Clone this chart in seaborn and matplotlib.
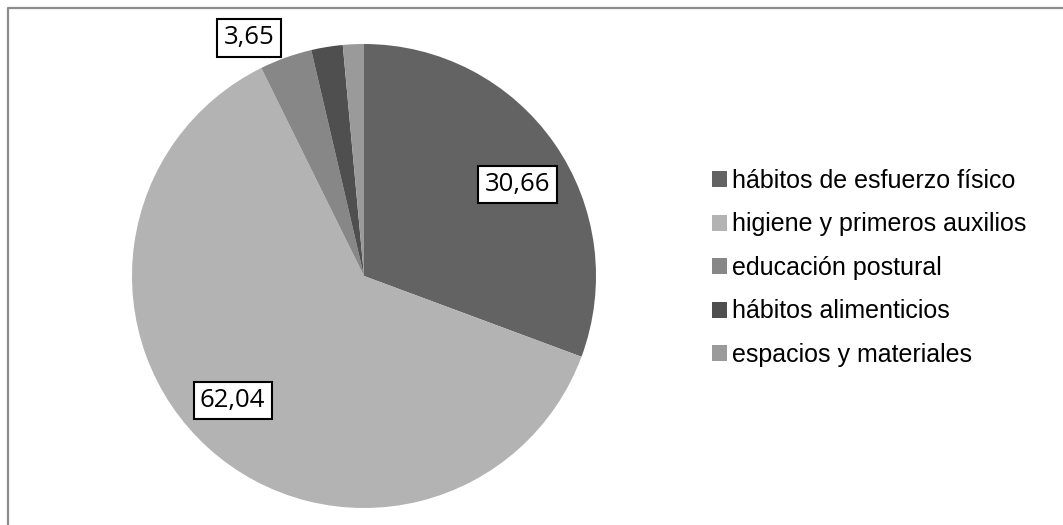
import numpy as np
import matplotlib
matplotlib.use("Agg")
import matplotlib.pyplot as plt
from matplotlib.lines import Line2D
import seaborn as sns

categories = ["hábitos de esfuerzo físico", "higiene y primeros auxilios",
              "educación postural", "hábitos alimenticios", "espacios y materiales"]
values = [30.66, 62.04, 3.65, 2.19, 1.46]
labels = ["30,66", "62,04", "3,65", "", ""]
colors = ["#636363", "#b3b3b3", "#878787", "#4f4f4f", "#9a9a9a"]

sns.set_theme(style="white")
plt.rcParams['font.family'] = ['Liberation Sans', 'DejaVu Sans']

W, H = 1063, 525
fig = plt.figure(figsize=(W / 100, H / 100), dpi=100)
fig.patch.set_facecolor("white")

cx, cy, r = 364, 276, 232
ax = fig.add_axes([(cx - r) / W, (H - cy - r) / H, 2 * r / W, 2 * r / H])
wedges, _ = ax.pie(values, colors=colors, startangle=90, counterclock=False,
                   radius=1.0, wedgeprops=dict(linewidth=0))
ax.set_xlim(-1, 1)
ax.set_ylim(-1, 1)
ax.set_aspect("equal")
ax.axis("off")

# label placement (distance from center, angular offset in degrees)
dist = [0.77, 0.78, 1.14]
dang = [-4, -4.5, 6]
for i, w in enumerate(wedges):
    if not labels[i]:
        continue
    th = np.deg2rad((w.theta1 + w.theta2) / 2 + dang[i])
    x, y = dist[i] * np.cos(th), dist[i] * np.sin(th)
    ax.text(x, y, labels[i], ha="center", va="center", fontsize=18.5,
            family=['Open Sans', 'DejaVu Sans'], color="black",
            bbox=dict(boxstyle="square,pad=0.25", facecolor="white",
                      edgecolor="black", linewidth=1.5), clip_on=False)

leg = fig.legend(wedges, categories, loc="upper left",
                 bbox_to_anchor=(712 / W, 1 - 169 / H),
                 frameon=False, fontsize=18, handlelength=0.6,
                 handleheight=0.6, handletextpad=0.2, labelspacing=0.78,
                 borderaxespad=0, borderpad=0)
for t in leg.get_texts():
    t.set_color("black")

# outer frame (cropped chart area border)
fig.add_artist(Line2D([8 / W, 8 / W, 1.0], [0.0, 1 - 7.5 / H, 1 - 7.5 / H],
                      transform=fig.transFigure, color="#8c8c8c", lw=1.6))

fig.savefig("out.png", dpi=100)
